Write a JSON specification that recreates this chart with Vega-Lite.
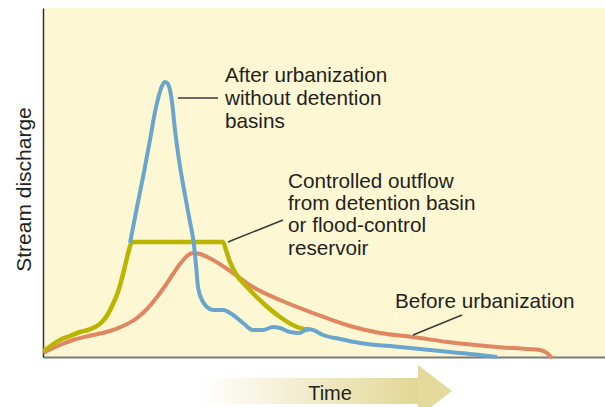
{
  "$schema": "https://vega.github.io/schema/vega-lite/v6.json",
  "width": 562,
  "height": 349,
  "autosize": {"type": "none"},
  "padding": {"left": 43, "top": 8, "right": 0, "bottom": 50},
  "background": "#ffffff",
  "config": {
    "view": {"fill": "#FDF8D3", "stroke": null},
    "axisX": {"zindex": 1, "domainColor": "#7a7a7a", "domainWidth": 2, "ticks": false, "labels": false, "grid": false, "title": null},
    "axisY": {"zindex": 1, "domainColor": "#333333", "domainWidth": 1.5, "ticks": false, "labels": false, "grid": false, "titleFont": "Liberation Sans", "titleFontSize": 21, "titleFontWeight": "normal", "titleColor": "#231F20", "titleX": -9, "titleY": 181, "titleAngle": 270, "titleBaseline": "bottom", "titleAlign": "center"}
  },
  "datasets": {
    "before": [
      {"time": 2, "discharge": 5}, {"time": 17, "discharge": 12}, {"time": 30, "discharge": 17}, {"time": 50, "discharge": 22}, {"time": 67, "discharge": 26}, {"time": 80, "discharge": 31}, {"time": 94, "discharge": 39}, {"time": 104, "discharge": 48}, {"time": 114, "discharge": 60}, {"time": 122, "discharge": 71}, {"time": 130, "discharge": 83}, {"time": 137, "discharge": 93}, {"time": 144, "discharge": 101}, {"time": 150, "discharge": 104}, {"time": 157, "discharge": 103}, {"time": 170, "discharge": 97}, {"time": 190, "discharge": 84}, {"time": 210, "discharge": 70}, {"time": 237, "discharge": 57}, {"time": 270, "discharge": 44}, {"time": 307, "discharge": 31}, {"time": 337, "discharge": 24}, {"time": 370, "discharge": 20}, {"time": 404, "discharge": 15}, {"time": 454, "discharge": 10}, {"time": 484, "discharge": 8}, {"time": 497, "discharge": 7}, {"time": 504, "discharge": 4}, {"time": 508, "discharge": 0}
    ],
    "controlled": [
      {"time": 2, "discharge": 7}, {"time": 9, "discharge": 12}, {"time": 17, "discharge": 17}, {"time": 27, "discharge": 21}, {"time": 37, "discharge": 25}, {"time": 45, "discharge": 27}, {"time": 52, "discharge": 30}, {"time": 59, "discharge": 35}, {"time": 65, "discharge": 43}, {"time": 70, "discharge": 53}, {"time": 75, "discharge": 65}, {"time": 79, "discharge": 79}, {"time": 83, "discharge": 95}, {"time": 86, "discharge": 107}, {"time": 89, "discharge": 115}, {"time": 180, "discharge": 115}, {"time": 183, "discharge": 107}, {"time": 187, "discharge": 95}, {"time": 193, "discharge": 83}, {"time": 204, "discharge": 70}, {"time": 220, "discharge": 54}, {"time": 237, "discharge": 40}, {"time": 254, "discharge": 30}, {"time": 264, "discharge": 27}
    ],
    "after": [
      {"time": 87, "discharge": 114}, {"time": 94, "discharge": 150}, {"time": 101, "discharge": 185}, {"time": 107, "discharge": 217}, {"time": 112, "discharge": 245}, {"time": 116, "discharge": 262}, {"time": 119, "discharge": 271}, {"time": 122, "discharge": 275}, {"time": 125, "discharge": 273}, {"time": 127, "discharge": 267}, {"time": 129, "discharge": 255}, {"time": 132, "discharge": 227}, {"time": 136, "discharge": 197}, {"time": 142, "discharge": 162}, {"time": 147, "discharge": 135}, {"time": 151, "discharge": 112}, {"time": 153, "discharge": 92}, {"time": 155, "discharge": 70}, {"time": 159, "discharge": 57}, {"time": 164, "discharge": 50}, {"time": 170, "discharge": 47}, {"time": 180, "discharge": 47}, {"time": 190, "discharge": 42}, {"time": 200, "discharge": 34}, {"time": 210, "discharge": 27}, {"time": 220, "discharge": 27}, {"time": 230, "discharge": 30}, {"time": 237, "discharge": 29}, {"time": 247, "discharge": 25}, {"time": 257, "discharge": 24}, {"time": 264, "discharge": 28}, {"time": 270, "discharge": 27}, {"time": 280, "discharge": 22}, {"time": 297, "discharge": 18}, {"time": 317, "discharge": 14}, {"time": 357, "discharge": 10}, {"time": 407, "discharge": 5}, {"time": 437, "discharge": 2}, {"time": 454, "discharge": 0}
    ],
    "labels": [
      {"time": 182, "discharge": 275, "text": "After urbanization"},
      {"time": 182, "discharge": 252, "text": "without detention"},
      {"time": 182, "discharge": 229, "text": "basins"},
      {"time": 245, "discharge": 169, "text": "Controlled outflow"},
      {"time": 245, "discharge": 147, "text": "from detention basin"},
      {"time": 245, "discharge": 125, "text": "or flood-control"},
      {"time": 245, "discharge": 102, "text": "reservoir"},
      {"time": 352, "discharge": 49, "text": "Before urbanization"}
    ],
    "timeLabel": [
      {"time": 287, "discharge": -43, "text": "Time"}
    ],
    "leaders": [
      {"time": 135, "discharge": 259, "time2": 175, "discharge2": 259},
      {"time": 185, "discharge": 115, "time2": 240, "discharge2": 137},
      {"time": 370, "discharge": 22, "time2": 419, "discharge2": 42}
    ],
    "arrowBody": [
      {"time": 157, "time2": 376, "discharge": -21, "discharge2": -47}
    ],
    "arrowHead": [
      {"time": 375, "discharge": -8, "discharge2": -60},
      {"time": 409, "discharge": -34, "discharge2": -34}
    ]
  },
  "layer": [
    {
      "data": {"name": "arrowBody"},
      "mark": {"type": "rect", "color": {"gradient": "linear", "x1": 0, "x2": 1, "y1": 0, "y2": 0, "stops": [{"offset": 0, "color": "#ffffff"}, {"offset": 1, "color": "#E2D795"}]}},
      "encoding": {
        "x": {"field": "time", "type": "quantitative", "scale": {"domain": [0, 562], "nice": false}},
        "x2": {"field": "time2"},
        "y": {"field": "discharge", "type": "quantitative", "scale": {"domain": [0, 349], "nice": false}, "title": "Stream discharge"},
        "y2": {"field": "discharge2"}
      }
    },
    {
      "data": {"name": "arrowHead"},
      "mark": {"type": "area", "color": "#E5DA9B", "orient": "vertical"},
      "encoding": {
        "x": {"field": "time", "type": "quantitative", "scale": {"domain": [0, 562], "nice": false}},
        "y": {"field": "discharge", "type": "quantitative", "scale": {"domain": [0, 349], "nice": false}, "title": "Stream discharge"},
        "y2": {"field": "discharge2"}
      }
    },
    {
      "data": {"name": "timeLabel"},
      "mark": {"type": "text", "align": "center", "baseline": "alphabetic", "font": "Liberation Sans", "fontSize": 20, "color": "#231F20"},
      "encoding": {
        "x": {"field": "time", "type": "quantitative", "scale": {"domain": [0, 562], "nice": false}},
        "y": {"field": "discharge", "type": "quantitative", "scale": {"domain": [0, 349], "nice": false}, "title": "Stream discharge"},
        "text": {"field": "text"}
      }
    },
    {
      "data": {"name": "before"},
      "mark": {"type": "line", "color": "#E08660", "strokeWidth": 4, "interpolate": "monotone", "strokeCap": "round"},
      "encoding": {
        "x": {"field": "time", "type": "quantitative", "scale": {"domain": [0, 562], "nice": false}},
        "y": {"field": "discharge", "type": "quantitative", "scale": {"domain": [0, 349], "nice": false}, "title": "Stream discharge"}
      }
    },
    {
      "data": {"name": "controlled"},
      "mark": {"type": "line", "color": "#BBB500", "strokeWidth": 4.5, "interpolate": "monotone", "strokeCap": "round"},
      "encoding": {
        "x": {"field": "time", "type": "quantitative", "scale": {"domain": [0, 562], "nice": false}},
        "y": {"field": "discharge", "type": "quantitative", "scale": {"domain": [0, 349], "nice": false}, "title": "Stream discharge"}
      }
    },
    {
      "data": {"name": "after"},
      "mark": {"type": "line", "color": "#6AA5CD", "strokeWidth": 4, "interpolate": "monotone", "strokeCap": "butt"},
      "encoding": {
        "x": {"field": "time", "type": "quantitative", "scale": {"domain": [0, 562], "nice": false}},
        "y": {"field": "discharge", "type": "quantitative", "scale": {"domain": [0, 349], "nice": false}, "title": "Stream discharge"}
      }
    },
    {
      "data": {"name": "leaders"},
      "mark": {"type": "rule", "color": "#3a3a3a", "strokeWidth": 1.5},
      "encoding": {
        "x": {"field": "time", "type": "quantitative", "scale": {"domain": [0, 562], "nice": false}},
        "y": {"field": "discharge", "type": "quantitative", "scale": {"domain": [0, 349], "nice": false}, "title": "Stream discharge"},
        "x2": {"field": "time2"},
        "y2": {"field": "discharge2"}
      }
    },
    {
      "data": {"name": "labels"},
      "mark": {"type": "text", "align": "left", "baseline": "alphabetic", "font": "Liberation Sans", "fontSize": 20.7, "color": "#231F20"},
      "encoding": {
        "x": {"field": "time", "type": "quantitative", "scale": {"domain": [0, 562], "nice": false}},
        "y": {"field": "discharge", "type": "quantitative", "scale": {"domain": [0, 349], "nice": false}, "title": "Stream discharge"},
        "text": {"field": "text"}
      }
    }
  ]
}
